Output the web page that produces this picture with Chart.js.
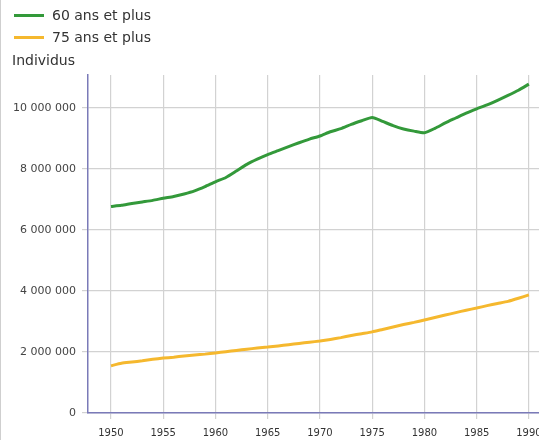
<!DOCTYPE html>
<html>
<head>
<meta charset="utf-8">
<script src="https://cdn.jsdelivr.net/npm/chart.js@4/dist/chart.umd.min.js"></script>
<style>
  body { margin: 0; width: 539px; height: 440px; overflow: hidden; background: #fff;
         font-family: "DejaVu Sans", sans-serif; position: relative; }
  #frame { position: absolute; left: 0; top: 0; width: 1px; height: 440px; background: #cfcfcf; }
  #wrap { position: absolute; left: 0; top: 0; width: 565px; height: 440px; }
  #legend { position: absolute; left: 14px; top: 4px; font-size: 14px; color: #333; }
  .item { display: flex; align-items: center; height: 22px; }
  .swatch { width: 30px; height: 3px; margin-right: 8px; }
  #unit { position: absolute; left: 12px; top: 52px; font-size: 14px; color: #333; }
</style>
</head>
<body>
<div id="wrap"><canvas id="chart"></canvas></div>
<div id="frame"></div>
<div id="legend"></div>
<div id="unit">Individus</div>
<script>
// years shown on the x axis
const years = [];
for (let y = 1950; y <= 1990; y++) years.push(y);

// tick values
const xTicks = [1950, 1955, 1960, 1965, 1970, 1975, 1980, 1985, 1990];
const yTicks = [0, 2000000, 4000000, 6000000, 8000000, 10000000];

// population, in millions (1950 .. 1990)
const age60plus = [6.77, 6.81, 6.87, 6.92, 6.97, 7.04, 7.10, 7.18, 7.28, 7.42,
  7.58, 7.72, 7.93, 8.15, 8.32, 8.47, 8.60, 8.73, 8.86, 8.98,
  9.08, 9.22, 9.32, 9.46, 9.58, 9.69, 9.56, 9.42, 9.31, 9.24,
  9.19, 9.33, 9.51, 9.67, 9.83, 9.97, 10.10, 10.25, 10.41, 10.58, 10.78];
const age75plus = [1.55, 1.63, 1.67, 1.71, 1.76, 1.80, 1.83, 1.87, 1.90, 1.93,
  1.97, 2.01, 2.05, 2.09, 2.13, 2.16, 2.20, 2.24, 2.28, 2.32,
  2.36, 2.41, 2.47, 2.54, 2.60, 2.66, 2.74, 2.82, 2.90, 2.97,
  3.05, 3.13, 3.21, 3.29, 3.37, 3.44, 3.52, 3.59, 3.66, 3.76, 3.87];

const seriesNames = ['60 ans et plus', '75 ans et plus'];
const seriesColors = ['#33993a', '#f5b82e'];

function toPoints(vals) {
  return years.map((yr, i) => ({ x: yr, y: vals[i] * 1000000 }));
}

// thousands with spaces: 10 000 000
function fmt(v) {
  return String(Math.round(v)).replace(/\B(?=(\d{3})+(?!\d))/g, ' ');
}

// html legend
const legend = document.getElementById('legend');
seriesNames.forEach((name, i) => {
  const row = document.createElement('div');
  row.className = 'item';
  const sw = document.createElement('span');
  sw.className = 'swatch';
  sw.style.background = seriesColors[i];
  row.appendChild(sw);
  row.appendChild(document.createTextNode(name));
  legend.appendChild(row);
});

const ctx = document.getElementById('chart').getContext('2d');
new Chart(ctx, {
  type: 'line',
  data: {
    datasets: [
      { label: seriesNames[0], data: toPoints(age60plus), borderColor: seriesColors[0], borderWidth: 3 },
      { label: seriesNames[1], data: toPoints(age75plus), borderColor: seriesColors[1], borderWidth: 3 }
    ]
  },
  options: {
    responsive: true,
    maintainAspectRatio: false,
    animation: false,
    layout: { padding: { top: 75, right: 10, left: 0, bottom: 0 } },
    elements: { point: { radius: 0 }, line: { tension: 0.2 } },
    plugins: { legend: { display: false }, tooltip: { enabled: false } },
    scales: {
      x: {
        type: 'linear',
        min: 1947.8,
        max: 1992.5,
        afterBuildTicks: s => { s.ticks = xTicks.map(v => ({ value: v })); },
        afterFit: s => { s.height = 27; },
        ticks: { padding: 8, color: '#333', font: { family: 'DejaVu Sans', size: 10 },
                 maxRotation: 0, autoSkip: false, callback: v => String(v) },
        grid: { color: '#d2d2d2', lineWidth: 1.2, tickLength: 6 },
        border: { color: '#7a7ab8', width: 1.5 }
      },
      y: {
        min: 0,
        max: 11080000,
        afterBuildTicks: s => { s.ticks = yTicks.map(v => ({ value: v })); },
        afterFit: s => { s.width = 88; },
        ticks: { padding: 6, color: '#444', font: { family: 'DejaVu Sans', size: 11 },
                 autoSkip: false, callback: v => fmt(v) },
        grid: { color: '#d2d2d2', lineWidth: 1.2, tickLength: 6 },
        border: { color: '#7a7ab8', width: 1.5 }
      }
    }
  }
});
</script>
</body>
</html>
